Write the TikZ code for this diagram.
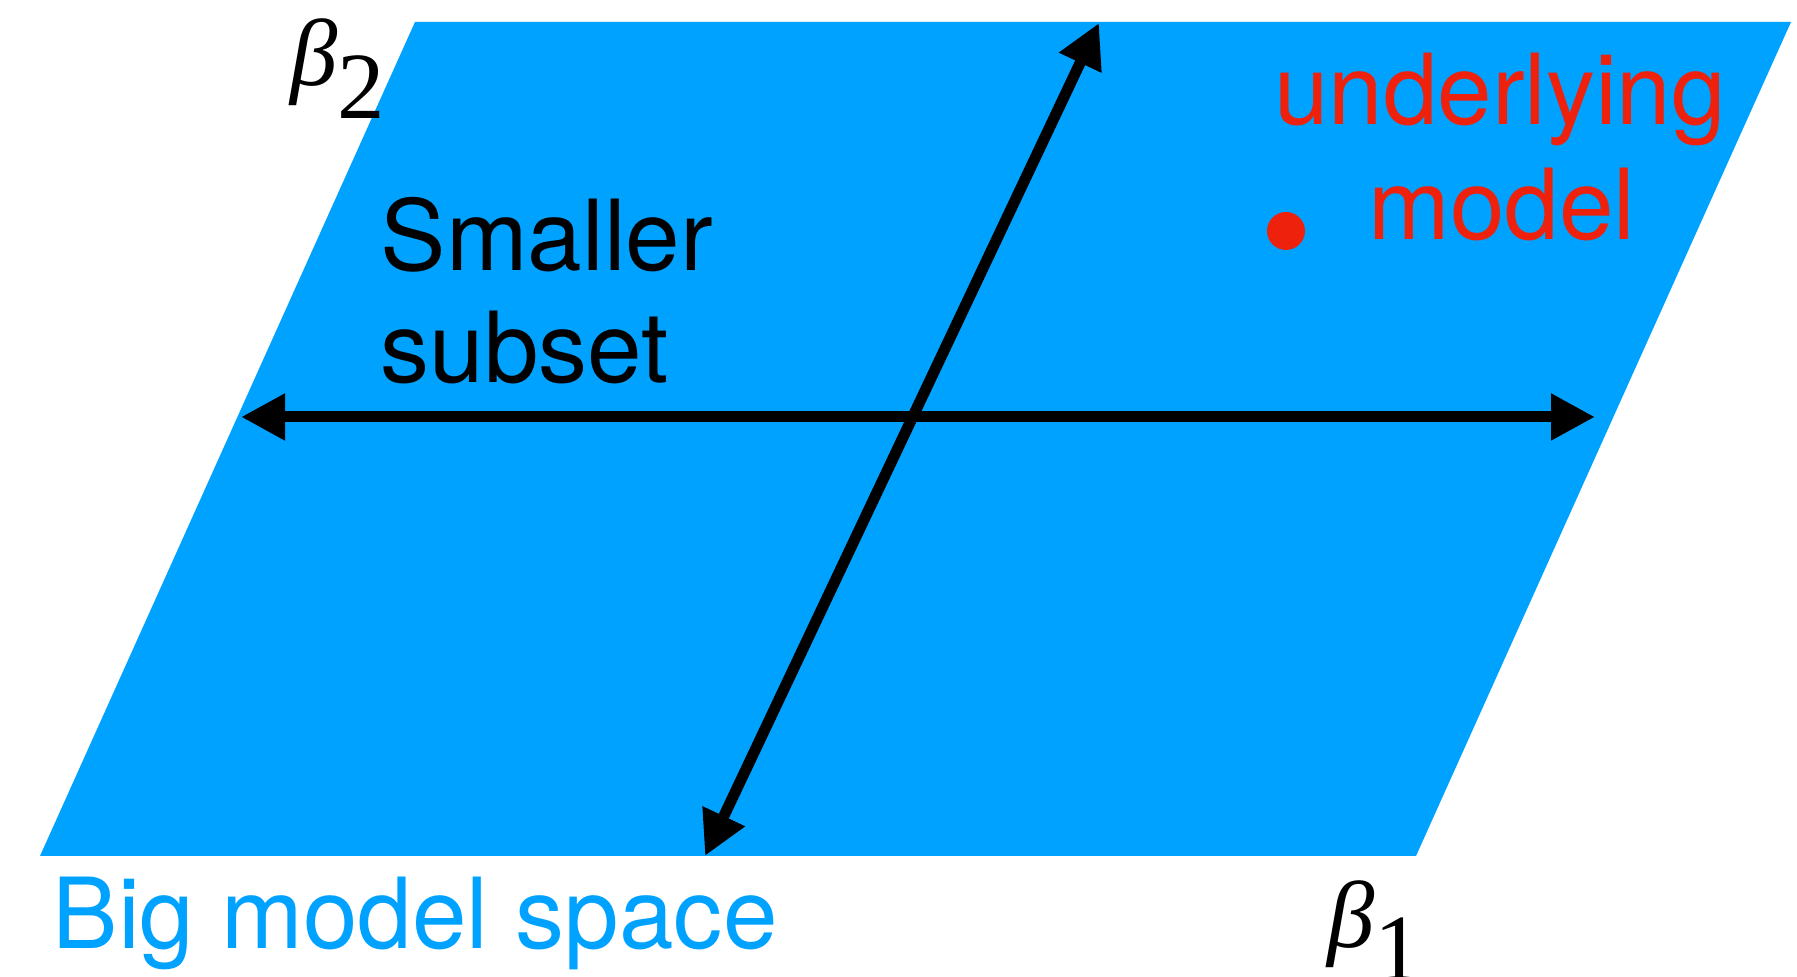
\documentclass[tikz,border=0pt]{standalone}
\usepackage{fontspec}
\setmainfont{TeX Gyre Heros}
\newfontfamily\betafont{Liberation Serif}
\usepackage{tikz}
\usetikzlibrary{arrows.meta,positioning}
\definecolor{planeblue}{HTML}{00A2FF}
\definecolor{modelred}{HTML}{EE220C}

\begin{document}
\begin{tikzpicture}[
    txt/.style={inner sep=0pt, font=\fontsize{27.9}{32}\selectfont},
    betalbl/.style={inner sep=0pt, font=\betafont\fontsize{27}{32}\selectfont},
    darr/.style={{Triangle[length=0.44cm, width=0.44cm]}-{Triangle[length=0.44cm, width=0.44cm]}, line width=0.11cm}
]
\useasboundingbox (0,0) rectangle (17.97,9.77);
% the big space
\coordinate (P1) at (0.40,1.21);
\coordinate (P2) at (4.15,9.55);
\coordinate (P3) at (17.91,9.55);
\coordinate (P4) at (14.16,1.21);
\fill[planeblue] (P1) -- (P2) -- (P3) -- (P4) -- cycle;

\node[betalbl, anchor=base west] (B2) at (2.90,8.91) {\itshape β$_{\mbox{\betafont\upshape 2}}$};
\node[betalbl, anchor=base west] (B1) at (13.27,0.29) {\itshape β$_{\mbox{\betafont\upshape 1}}$};

% smaller subset axes
\coordinate (HL) at (2.41,5.60);
\coordinate (HR) at (15.95,5.60);
\coordinate (SB) at (7.05,1.21);
\coordinate (ST) at (10.99,9.54);
\draw[darr] (HL) -- (HR);
\draw[darr] (SB) -- (ST);

\node[txt, anchor=base west] (S1) at (3.80,7.06) {Smaller};
\node[txt, anchor=base west] (S2) at (3.80,5.94) {subset};

% underlying model
\fill[modelred] (12.86,7.46) circle (0.19);
\node[txt, text=modelred, anchor=base] (U1) at (15.00,8.52) {underlying};
\node[txt, text=modelred, anchor=base] (U2) at (15.02,7.37) {model};

\node[txt, text=planeblue, anchor=base west] (BM) at (0.52,0.28) {Big model space};
\end{tikzpicture}
\end{document}
